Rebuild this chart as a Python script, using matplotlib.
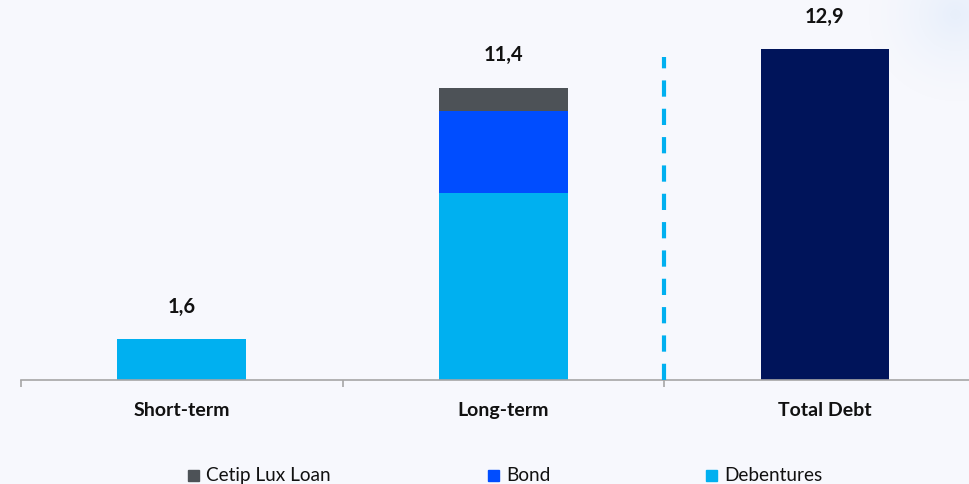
import matplotlib
matplotlib.use("Agg")
import numpy as np
import matplotlib.pyplot as plt
from matplotlib.patches import Rectangle

# data
categories = ["Short-term", "Long-term", "Total Debt"]
debentures = [1.6, 7.3, 0.0]
bond = [0.0, 3.2, 0.0]
cetip_lux = [0.0, 0.9, 0.0]
total_debt = [0.0, 0.0, 12.9]
labels = ["1,6", "11,4", "12,9"]
label_values = [1.6, 11.4, 12.9]
legend_names = ["Cetip Lux Loan", "Bond", "Debentures"]

c_deb = "#00B0F0"
c_bond = "#004DFF"
c_cetip = "#4D5257"
c_total = "#00145A"
bg = "#F7F8FD"

plt.rcParams['font.family'] = ['Lato', 'DejaVu Sans']

fig = plt.figure(figsize=(9.69, 4.85), dpi=100, facecolor=bg)

# faint glow in the top right corner
glow = fig.add_axes([0, 0, 1, 1], zorder=-1)
gx, gy = np.meshgrid(np.arange(969), np.arange(485))
d = np.hypot(gx - 955, gy - 15) / 90.0
a = np.clip(1 - d, 0, 1) ** 1.5 * 0.55
img = np.zeros((485, 969, 4))
img[..., 0], img[..., 1], img[..., 2] = 0.86, 0.91, 0.98
img[..., 3] = a
glow.imshow(img, extent=(0, 969, 485, 0), aspect="auto")
glow.set_xlim(0, 969)
glow.set_ylim(485, 0)
glow.axis("off")

ax = fig.add_axes([21 / 969, 104 / 485, 948 / 969, 381 / 485])
ax.patch.set_alpha(0)

x = list(range(len(categories)))
w = 0.4
ax.bar(x, debentures, width=w, color=c_deb, zorder=2)
ax.bar(x, bond, width=w, bottom=debentures, color=c_bond, zorder=2)
bottom2 = [d + b for d, b in zip(debentures, bond)]
ax.bar(x, cetip_lux, width=w, bottom=bottom2, color=c_cetip, zorder=2)
ax.bar(x, total_debt, width=w, color=c_total, zorder=2)

for xi, v, t in zip(x, label_values, labels):
    ax.annotate(t, (xi, v), xytext=(0, 24), textcoords="offset points",
                ha="center", va="center", fontsize=14.5, fontweight="bold",
                color="#111111")

# divider before total
ax.plot([1.5, 1.5], [0, 12.6], color=c_deb, lw=3, linestyle=(0, (3.9, 2.9)),
        zorder=3, solid_capstyle="butt")

ax.set_xlim(-0.5, 2.448)
ax.set_ylim(0, 14.85)
for s in ["top", "right", "left"]:
    ax.spines[s].set_visible(False)
ax.spines["bottom"].set_color("#A6A6A6")
ax.spines["bottom"].set_linewidth(1.2)
ax.set_yticks([])
ax.set_xticks([-0.5, 0.5, 1.5])
ax.set_xticklabels([])
ax.tick_params(axis="x", length=5, width=1.2, color="#A6A6A6", direction="out")
for xi, c in zip(x, categories):
    ax.annotate(c, (xi, 0), xytext=(0, -21), textcoords="offset points",
                ha="center", va="center", fontsize=14, fontweight="bold",
                color="#111111", annotation_clip=False)

# legend, placed by hand
leg_x = [188, 488, 706]
leg_colors = [c_cetip, c_bond, c_deb]
for lx, name, col in zip(leg_x, legend_names, leg_colors):
    fig.patches.append(Rectangle((lx / 969, (485 - 482) / 485), 11 / 969, 11 / 485,
                                 transform=fig.transFigure, color=col))
    fig.text((lx + 18) / 969, (485 - 476) / 485, name, ha="left", va="center",
             fontsize=13.7, color="#111111")

fig.savefig("out.png", dpi=100, facecolor=bg)
